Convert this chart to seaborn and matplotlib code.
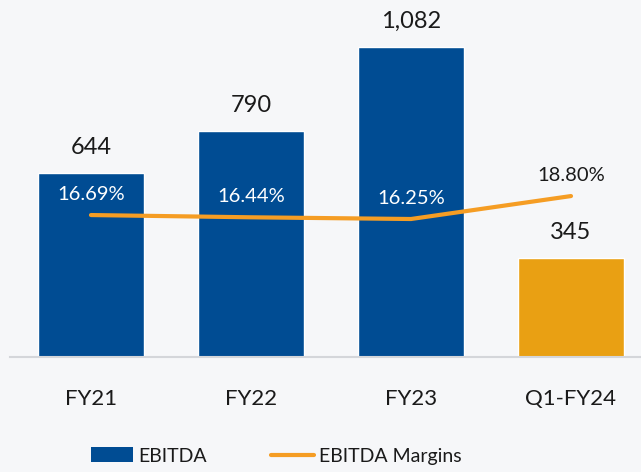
import pandas as pd
import matplotlib.pyplot as plt
import seaborn as sns
from matplotlib.patches import Patch
from matplotlib.lines import Line2D

periods = ['FY21', 'FY22', 'FY23', 'Q1-FY24']
ebitda = [644, 790, 1082, 345]
margins = [16.69, 16.44, 16.25, 18.80]
ebitda_labels = ['644', '790', '1,082', '345']
margin_labels = ['16.69%', '16.44%', '16.25%', '18.80%']
kind = ['Annual', 'Annual', 'Annual', 'Quarter']

blue = '#004C93'
gold = '#E9A013'
orange = '#F59D24'
bg = '#F6F7F9'

df = pd.DataFrame({'period': periods, 'ebitda': ebitda, 'margin': margins, 'kind': kind})
df['pos'] = range(len(df))

sns.set_theme(style='white')
plt.rcParams['font.family'] = ['Lato', 'DejaVu Sans']

fig = plt.figure(figsize=(6.41, 4.72), dpi=100, facecolor=bg)
ax = fig.add_axes([10 / 641, (472 - 357) / 472, 631 / 641, 357 / 472])
ax.set_facecolor(bg)

sns.barplot(data=df, x='period', y='ebitda', hue='kind', palette=[blue, gold],
            width=0.6625, dodge=False, legend=False, ax=ax, saturation=1)
ax.set_xlim(-0.506, 3.4375)
ax.set_ylim(0, 1248)
ax.set_xlabel('')
ax.set_ylabel('')
ax.set_yticks([])
ax.tick_params(axis='x', length=0, labelsize=16, labelcolor='#1a1a1a', pad=23)
for s in ['top', 'left', 'right']:
    ax.spines[s].set_visible(False)
ax.spines['bottom'].set_color('#D4D6DA')
ax.spines['bottom'].set_linewidth(1.5)

for i, (v, lab) in enumerate(zip(ebitda, ebitda_labels)):
    ax.annotate(lab, (i, v), textcoords='offset points', xytext=(0, 11),
                ha='center', va='bottom', fontsize=17, color='#1a1a1a')

ax2 = ax.twinx()
sns.lineplot(data=df, x='pos', y='margin', color=orange, linewidth=3,
             ax=ax2, legend=False)
ax2.set_ylim(0.92, 40.58)
ax2.set_xlim(-0.506, 3.4375)
ax2.set_yticks([])
ax2.set_xlabel('')
ax2.set_ylabel('')
for s in ['top', 'left', 'right', 'bottom']:
    ax2.spines[s].set_visible(False)
ax2.grid(False)

for i, (m, lab) in enumerate(zip(margins, margin_labels)):
    col = 'white' if i < 3 else '#1a1a1a'
    ax2.annotate(lab, (i, m), textcoords='offset points', xytext=(0, 15),
                 ha='center', va='center', fontsize=14.5, color=col)

handles = [Patch(facecolor=blue, edgecolor='none', label='EBITDA'),
           Line2D([0], [0], color=orange, linewidth=3, label='EBITDA Margins')]
fig.legend(handles=handles, loc='center', bbox_to_anchor=(276 / 641, 1 - 456 / 472),
           ncol=2, frameon=False, fontsize=14, handlelength=2.2, handleheight=0.8,
           handletextpad=0.25, columnspacing=3.3, labelcolor='#1a1a1a')

plt.savefig('out.png', dpi=100, facecolor=bg)
